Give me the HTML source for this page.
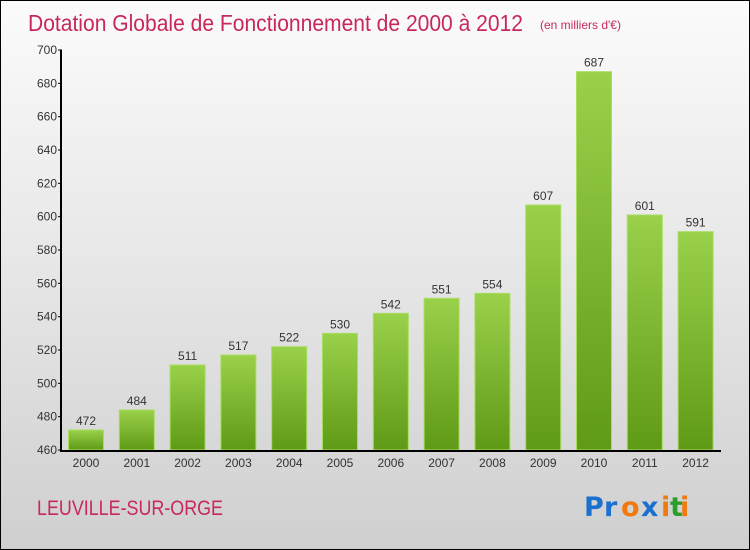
<!DOCTYPE html>
<html><head><meta charset="utf-8"><style>
body{margin:0}
#c{width:748px;height:548px;border:1px solid #000;position:relative;overflow:hidden;background:linear-gradient(#fbfbfb,#e6e6e6 50%,#cfcfcf);font-family:"Liberation Sans",sans-serif}
</style></head><body>
<div id="c">
<svg width="748" height="548" style="position:absolute;left:0;top:0" id="svg">
<defs><linearGradient id="g" x1="0" y1="0" x2="0" y2="1"><stop offset="0" stop-color="#9ad14b"/><stop offset="1" stop-color="#5f9a16"/></linearGradient></defs>
<text x="27" y="30" font-size="23" fill="#c8285a" textLength="495" lengthAdjust="spacingAndGlyphs">Dotation Globale de Fonctionnement de 2000 à 2012</text>
<text x="539" y="28" font-size="12" fill="#c8285a">(en milliers d'€)</text>
<text x="36" y="514" font-size="21" fill="#c8285a" textLength="186" lengthAdjust="spacingAndGlyphs">LEUVILLE-SUR-ORGE</text>
<g font-size="27" font-family="DejaVu Sans" font-weight="bold"><text x="583" y="515" fill="#1a6fcf">P</text><text x="603" y="515" fill="#1a6fcf">r</text><text x="620" y="515" fill="#f07a10">o</text><text x="640" y="515" fill="#1a6fcf">x</text><text x="660" y="515" fill="#f07a10">i</text><text x="669" y="515" fill="#2aa02a">t</text><text x="679" y="515" fill="#f07a10">i</text></g>
<g id="plot"></g>
</svg>
</div>
<script>
const categories=["2000","2001","2002","2003","2004","2005","2006","2007","2008","2009","2010","2011","2012"];
const values=[472,484,511,517,522,530,542,551,554,607,687,601,591];
const yTicks=[460,480,500,520,540,560,580,600,620,640,660,680,700];
const ns="http://www.w3.org/2000/svg";
const g=document.getElementById('plot');
const y0=449,y1=49,vMin=460,vMax=700;
const yS=v=>y0-(v-vMin)/(vMax-vMin)*(y0-y1);
const xS=i=>85+i*50.8;
function mk(t,a){const e=document.createElementNS(ns,t);for(const k in a)e.setAttribute(k,a[k]);g.appendChild(e);return e;}
categories.forEach((c,i)=>{
 const r=mk('rect',{x:xS(i)-17.5,y:yS(values[i]),width:35,height:y0-yS(values[i]),fill:'url(#g)',stroke:'#a8dd60','stroke-width':1});
 
 
 const t=mk('text',{x:xS(i),y:yS(values[i])-5,'font-size':12,fill:'#333','text-anchor':'middle'});t.textContent=values[i];
 
 
 const l=mk('text',{x:xS(i),y:466,'font-size':12,fill:'#333','text-anchor':'middle'});l.textContent=c;
 
 
});
yTicks.forEach(v=>{
 const tk=mk('line',{x1:57,x2:61,y1:yS(v),y2:yS(v),stroke:'#000'});
 
 
 const t=mk('text',{x:56,y:yS(v)+4,'font-size':12,fill:'#333','text-anchor':'end'});t.textContent=v;
 
 
});
const ya=mk('line',{x1:60,x2:60,y1:y1,y2:y0+1,stroke:'#000','stroke-width':2});


const xa=mk('line',{x1:59,x2:720,y1:y0+1,y2:y0+1,stroke:'#000','stroke-width':2});


</script>
</body></html>
